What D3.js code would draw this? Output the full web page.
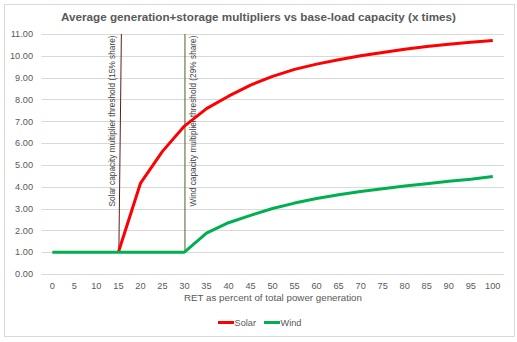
<!DOCTYPE html>
<html>
<head>
<meta charset="utf-8">
<script src="https://cdn.jsdelivr.net/npm/d3@7"></script>
<style>
  html, body { margin: 0; padding: 0; background: #fff; }
  svg { display: block; font-family: "Liberation Sans", Arial, sans-serif; }
</style>
</head>
<body>
<div id="chart"></div>
<script>
// RET share of total generation (%)
var shares = [0, 5, 10, 15, 20, 25, 30, 35, 40, 45, 50, 55, 60, 65, 70, 75, 80, 85, 90, 95, 100]
// solar series only starts at its 15% threshold
var solar = [null, null, null, 1, 4.15, 5.62, 6.78, 7.58, 8.15, 8.66, 9.06, 9.38, 9.62, 9.82, 10.0, 10.15, 10.3, 10.43, 10.53, 10.62, 10.7]
var wind = [1, 1, 1, 1, 1, 1, 1, 1.87, 2.35, 2.69, 3.0, 3.25, 3.46, 3.63, 3.78, 3.91, 4.03, 4.14, 4.25, 4.34, 4.47]
var yTicks = [0, 1, 2, 3, 4, 5, 6, 7, 8, 9, 10, 11]
var thresholds = [
	{ share: 15, label: 'Solar capacity multiplier threshold (15% share)', color: '#5c2020', side: -1, lean: 2.5 },
	{ share: 30, label: 'Wind capacity multiplier threshold (29% share)', color: '#4f6228', side: 1, lean: 0 }
]
var series = [
	{ name: 'Solar', values: solar, color: '#ff0000' },
	{ name: 'Wind', values: wind, color: '#00b050' }
]

var width = 517
var height = 342
var textColor = '#595959'

var svg = d3.select('#chart').append('svg')
	.attr('width', width)
	.attr('height', height)

// chart frame
svg.append('rect')
	.attr('x', 4.5).attr('y', 4.5)
	.attr('width', 510).attr('height', 332)
	.attr('fill', '#fff')
	.attr('stroke', '#d9d9d9')

var x = d3.scalePoint().domain(shares).range([41.3, 503.8]).padding(0.5)
var y = d3.scaleLinear().domain([0, 11]).range([274, 34])

// horizontal gridlines
svg.append('g')
	.selectAll('line')
	.data(yTicks)
	.join('line')
	.attr('x1', 41.5).attr('x2', 504)
	.attr('y1', function(d) { return Math.round(y(d)) + 0.5 })
	.attr('y2', function(d) { return Math.round(y(d)) + 0.5 })
	.attr('stroke', '#d9d9d9')

// y labels
svg.append('g')
	.selectAll('text')
	.data(yTicks)
	.join('text')
	.attr('x', 33)
	.attr('y', function(d) { return y(d) + 3.3 })
	.attr('text-anchor', 'end')
	.attr('font-size', '9.2px')
	.attr('fill', textColor)
	.text(function(d) { return d.toFixed(2) })

// x labels
svg.append('g')
	.selectAll('text')
	.data(shares)
	.join('text')
	.attr('x', function(d) { return x(d) })
	.attr('y', 288.5)
	.attr('text-anchor', 'middle')
	.attr('font-size', '9.2px')
	.attr('fill', textColor)
	.text(function(d) { return d })

svg.append('text')
	.attr('x', 273)
	.attr('y', 300.5)
	.attr('text-anchor', 'middle')
	.attr('font-size', '9.2px')
	.attr('fill', textColor)
	.attr('textLength', 178)
	.attr('lengthAdjust', 'spacingAndGlyphs')
	.text('RET as percent of total power generation')

svg.append('text')
	.attr('x', 258.5)
	.attr('y', 20.5)
	.attr('text-anchor', 'middle')
	.attr('font-size', '11.5px')
	.attr('font-weight', 'bold')
	.attr('fill', textColor)
	.attr('textLength', 395)
	.attr('lengthAdjust', 'spacingAndGlyphs')
	.text('Average generation+storage multipliers vs base-load  capacity (x times)')

// threshold markers
var th = svg.append('g')
thresholds.forEach(function(t) {
	var xb = x(t.share)
	th.append('line')
		.attr('x1', xb + t.lean + 0.5).attr('y1', y(11))
		.attr('x2', xb + 0.5).attr('y2', y(1) - 1.5)
		.attr('stroke', t.color)
		.attr('stroke-width', 1)
	var tx = xb + t.side * 6.5 + (t.side < 0 ? 0 : 2.5)
	th.append('text')
		.attr('transform', 'translate(' + (tx + 3) + ',' + 206.5 + ') rotate(-90)')
		.attr('font-size', '8.3px')
		.attr('fill', '#404040')
		.attr('textLength', 171)
		.attr('lengthAdjust', 'spacingAndGlyphs')
		.text(t.label)
})

var line = d3.line()
	.defined(function(d) { return d != null })
	.x(function(d, i) { return x(shares[i]) })
	.y(function(d) { return y(d) })

svg.append('g')
	.selectAll('path')
	.data(series)
	.join('path')
	.attr('d', function(s) { return line(s.values) })
	.attr('fill', 'none')
	.attr('stroke', function(s) { return s.color })
	.attr('stroke-width', 3)
	.attr('stroke-linejoin', 'round')

// legend
var legend = svg.append('g')
var lx = [218, 264]
series.forEach(function(s, i) {
	legend.append('line')
		.attr('x1', lx[i]).attr('x2', lx[i] + 16)
		.attr('y1', 322.5).attr('y2', 322.5)
		.attr('stroke', s.color)
		.attr('stroke-width', 3)
	legend.append('text')
		.attr('x', lx[i] + 16.5)
		.attr('y', 326)
		.attr('font-size', '9.2px')
		.attr('fill', textColor)
		.text(s.name)
})
</script>
</body>
</html>
